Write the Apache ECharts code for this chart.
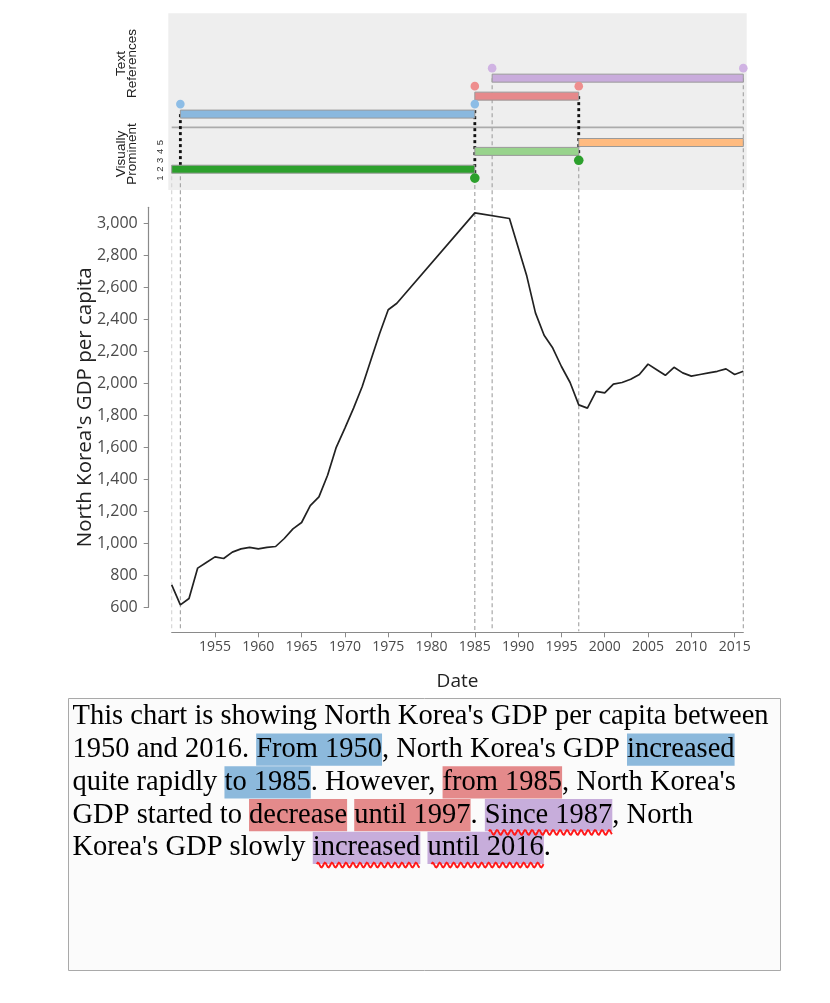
<!DOCTYPE html>
<html><head><meta charset="utf-8">
<script src="https://cdn.jsdelivr.net/npm/echarts/dist/echarts.min.js"></script>
<style>html,body{margin:0;padding:0;background:#fff}#c{width:830px;height:1003px}</style>
</head><body><div id="c"></div>
<script>
// ---------- data ----------
const years = [1950,1951,1952,1953,1954,1955,1956,1957,1958,1959,1960,1961,1962,1963,1964,1965,1966,1967,1968,1969,1970,1971,1972,1973,1974,1975,1976,1985,1989,1990,1991,1992,1993,1994,1995,1996,1997,1998,1999,2000,2001,2002,2003,2004,2005,2006,2007,2008,2009,2010,2011,2012,2013,2014,2015,2016];
const gdp = [740,615,655,845,880,915,905,945,965,975,965,975,980,1030,1090,1130,1235,1290,1425,1600,1720,1845,1980,2145,2310,2460,2500,3065,3030,2850,2670,2440,2300,2220,2105,2005,1865,1845,1950,1940,1995,2005,2025,2055,2120,2085,2050,2100,2065,2045,2055,2065,2075,2090,2055,2075];

// text references (top rows)
const trStart = [1951, 1985, 1987];
const trEnd   = [1985, 1997, 2016];
const trRow   = [1, 2, 3];
const trColor = ['#8ab8de', '#e6898b', '#c9acdc'];
const trDotColor = ['#8dbde6', '#ee8e8e', '#d0b3e3'];

// visually prominent (levels 1..5)
const vpStart = [1950, 1985, 1997];
const vpEnd   = [1985, 1997, 2016];
const vpLevel = [2, 4, 5];
const vpColor = ['#2ca02c', '#98d38c', '#ffbb80'];
const vpDotYear  = [1985, 1997];
const vpDotLevel = [1, 3];
const vpLevelLabels = ['1','2','3','4','5'];

// vertical reference rules
const ruleYears = [1950, 1951, 1985, 1987, 1997, 2016];

// text panel
const textLines = [
  [["This chart is showing North Korea's GDP per capita between"]],
  [["1950 and 2016. "],["From 1950","blue"],[", North Korea's GDP "],["increased","blue"]],
  [["quite rapidly "],["to 1985","blue"],[". However, "],["from 1985","red"],[", North Korea's"]],
  [["GDP started to "],["decrease","red"],[" "],["until 1997","red"],[". "],["Since 1987","purple",1],[", North"]],
  [["Korea's GDP slowly "],["increased","purple",1],[" "],["until 2016","purple",1],["."]]
];
const HL = {blue:'#8cb9dc', red:'#e48a8b', purple:'#c7addb'};

// ---------- layout ----------
const GL = 171.7, GR = 830 - 743.3;
const TOP_T = 17.9, TOP_H = 169.1;        // top panel grid: L 0..19
const MAIN_T = 207.3, MAIN_B = 1003 - 607.3;
const XOFF = 25, X_AXIS_Y = 607.3 + XOFF;
const TR_BASE = 6.17, TR_STEP = 2.02;
const trL = r => TR_BASE + TR_STEP * r;
const SEP_L = 6.7;
const BAR_H = 8;

const trData = trStart.map((s, i) => [s, trEnd[i], trL(trRow[i])]);
const vpData = vpStart.map((s, i) => [s, vpEnd[i], vpLevel[i]]);
const trDots = [];
trStart.forEach((s, i) => { trDots.push([s, trL(trRow[i]), i]); trDots.push([trEnd[i], trL(trRow[i]), i]); });
const vpDots = vpDotYear.map((y, i) => [y, vpDotLevel[i]]);

// anchors for rules (top of each grey rule, in L units)
const ruleTop = {1950: vpLevel[0], 1951: vpLevel[0], 1985: vpDotLevel[0], 1987: trL(3), 1997: vpDotLevel[1], 2016: trL(3)};
const ruleData = ruleYears.map(y => [y, ruleTop[y]]);
// black connectors: [year, fromL, toL]
const connData = [
  [trStart[0], trL(1), vpLevel[0]],
  [trEnd[0], trL(1) + 1.12, vpDotLevel[0]],
  [trEnd[1], trL(2), vpDotLevel[1]]
];

function barRender(colors) {
  return function (params, api) {
    const i = params.dataIndex;
    const a = api.coord([api.value(0), api.value(2)]);
    const b = api.coord([api.value(1), api.value(2)]);
    return {type: 'rect', shape: {x: a[0], y: a[1] - BAR_H / 2, width: b[0] - a[0], height: BAR_H},
      style: {fill: colors[i], stroke: '#9a9a9a', lineWidth: 1}};
  };
}

// ---------- graphics ----------
const graphics = [];
graphics.push({type: 'rect', z: 0, shape: {x: 168.3, y: 13.3, width: 578.4, height: 176.7}, style: {fill: '#eeeeee'}});
graphics.push({type: 'text', z: 1, x: 126.7, y: 63.5, rotation: Math.PI / 2,
  style: {text: 'Text\nReferences', font: '13.5px "Liberation Sans"', fill: '#222', align: 'center', verticalAlign: 'middle', textAlign: 'center', textVerticalAlign: 'middle', lineHeight: 11}});
graphics.push({type: 'text', z: 1, x: 126.7, y: 154, rotation: Math.PI / 2,
  style: {text: 'Visually\nProminent', font: '13.5px "Liberation Sans"', fill: '#222', align: 'center', verticalAlign: 'middle', textAlign: 'center', textVerticalAlign: 'middle', lineHeight: 11}});

// text box
graphics.push({type: 'rect', z: 0, shape: {x: 68.5, y: 698.5, width: 712, height: 272}, style: {fill: '#fbfbfb', stroke: '#a9a9a9', lineWidth: 1}});
const FONT_T = '28.5px "Liberation Serif"';
const TEXT_X = 72.5, TEXT_TOP = 700.6, LINE_H = 32.7;
const mctx = document.createElement('canvas').getContext('2d');
mctx.font = FONT_T;
textLines.forEach((segs, li) => {
  const top = TEXT_TOP + li * LINE_H;
  let full = '';
  segs.forEach(seg => {
    const x0 = TEXT_X + mctx.measureText(full).width;
    full += seg[0];
    const x1 = TEXT_X + mctx.measureText(full).width;
    if (seg[1]) {
      graphics.push({type: 'rect', z: 1, shape: {x: x0, y: top + 0.3, width: x1 - x0, height: 32.2}, style: {fill: HL[seg[1]]}});
    }
    if (seg[2]) {
      const pts = [];
      const yc = top + LINE_H + 1;
      for (let x = x0 + 4; x <= x1; x += 1) pts.push([x, yc + 2.4 * Math.sin((x - x0) * 2 * Math.PI / 7)]);
      graphics.push({type: 'polyline', z: 3, shape: {points: pts}, style: {stroke: '#ff1a1a', lineWidth: 1.9, fill: null}});
    }
  });
  graphics.push({type: 'text', z: 2, x: TEXT_X, y: top + LINE_H / 2,
    style: {text: full, font: FONT_T, fill: '#000', align: 'left', verticalAlign: 'middle', textAlign: 'left', textVerticalAlign: 'middle'}});
});

// ---------- chart ----------
const chart = echarts.init(document.getElementById('c'), null, {renderer: 'canvas'});
const axisGrey = '#8a8a8a';
const option = {
  animation: false,
  backgroundColor: '#fff',
  graphic: {elements: graphics},
  grid: [
    {left: GL, right: GR, top: TOP_T, height: TOP_H},
    {left: GL, right: GR, top: MAIN_T, bottom: MAIN_B}
  ],
  xAxis: [
    {gridIndex: 0, type: 'value', min: 1950, max: 2016, show: false},
    {gridIndex: 1, type: 'value', min: 1950, max: 2016, interval: 5, offset: XOFF,
      axisLine: {show: true, lineStyle: {color: axisGrey, width: 1.2}},
      axisTick: {show: true, length: 5, lineStyle: {color: axisGrey}},
      splitLine: {show: false},
      axisLabel: {showMinLabel: false, showMaxLabel: false, margin: 8, fontSize: 14, color: '#4a4a4a', fontFamily: 'Open Sans', formatter: v => String(v)},
      name: 'Date', nameLocation: 'middle', nameGap: 40, nameMoveOverlap: false,
      nameTextStyle: {fontSize: 19, color: '#222', fontFamily: 'Open Sans'}}
  ],
  yAxis: [
    {gridIndex: 0, type: 'value', min: 0, max: 19, interval: 1,
      axisLine: {show: false}, axisTick: {show: false}, splitLine: {show: false},
      axisLabel: {show: true, rotate: 90, margin: 6, fontSize: 9.5, color: '#333', fontFamily: 'Liberation Sans',
        formatter: v => (v >= 1 && v <= 5 ? vpLevelLabels[v - 1] : '')}},
    {gridIndex: 1, type: 'value', min: 600, max: 3100, interval: 200, offset: 23,
      axisLine: {show: true, lineStyle: {color: axisGrey, width: 1.2}},
      axisTick: {show: true, length: 5, lineStyle: {color: axisGrey}},
      splitLine: {show: false},
      axisLabel: {showMaxLabel: false, margin: 11, fontSize: 16, color: '#4a4a4a', fontFamily: 'Open Sans',
        formatter: v => v.toLocaleString('en-US')},
      name: "North Korea's GDP per capita", nameLocation: 'middle', nameGap: 53, nameRotate: 90, nameMoveOverlap: false,
      nameTextStyle: {fontSize: 20.5, color: '#222', fontFamily: 'Open Sans'}}
  ],
  series: [
    {type: 'custom', xAxisIndex: 0, yAxisIndex: 0, z: 1, clip: false, silent: true,
      data: ruleData,
      renderItem: function (params, api) {
        const y = api.value(0);
        const p = api.coord([y, api.value(1)]);
        return {type: 'line', shape: {x1: p[0], y1: p[1], x2: p[0], y2: X_AXIS_Y - 1},
          style: {stroke: y === 1950 ? '#d4d4d4' : '#a0a0a0', lineWidth: 1.1, lineDash: [4, 3]}};
      }},
    {type: 'custom', xAxisIndex: 0, yAxisIndex: 0, z: 2, clip: false, silent: true,
      data: [[1950, 2016, SEP_L]], encode: {x: [0, 1], y: 2},
      renderItem: function (params, api) {
        const a = api.coord([api.value(0), api.value(2)]);
        const b = api.coord([api.value(1), api.value(2)]);
        return {type: 'line', shape: {x1: a[0], y1: a[1], x2: b[0], y2: b[1]}, style: {stroke: '#ababab', lineWidth: 1.6}};
      }},
    {type: 'custom', xAxisIndex: 0, yAxisIndex: 0, z: 2, clip: false, silent: true,
      data: connData, encode: {x: 0, y: [1, 2]},
      renderItem: function (params, api) {
        const a = api.coord([api.value(0), api.value(1)]);
        const b = api.coord([api.value(0), api.value(2)]);
        return {type: 'line', shape: {x1: a[0], y1: a[1], x2: b[0], y2: b[1]}, style: {stroke: '#111', lineWidth: 2.8, lineDash: [3, 3]}};
      }},
    {type: 'custom', xAxisIndex: 0, yAxisIndex: 0, z: 3, clip: false, silent: true,
      data: trData, encode: {x: [0, 1], y: 2}, renderItem: barRender(trColor)},
    {type: 'custom', xAxisIndex: 0, yAxisIndex: 0, z: 3, clip: false, silent: true,
      data: vpData, encode: {x: [0, 1], y: 2}, renderItem: barRender(vpColor)},
    {type: 'custom', xAxisIndex: 0, yAxisIndex: 0, z: 4, clip: false, silent: true,
      data: trDots, encode: {x: 0, y: 1},
      renderItem: function (params, api) {
        const p = api.coord([api.value(0), api.value(1)]);
        return {type: 'circle', shape: {cx: p[0], cy: p[1] - 10, r: 4.3}, style: {fill: trDotColor[api.value(2)]}};
      }},
    {type: 'custom', xAxisIndex: 0, yAxisIndex: 0, z: 4, clip: false, silent: true,
      data: vpDots, encode: {x: 0, y: 1},
      renderItem: function (params, api) {
        const p = api.coord([api.value(0), api.value(1)]);
        return {type: 'circle', shape: {cx: p[0], cy: p[1], r: 4.8}, style: {fill: vpColor[0]}};
      }},
    {type: 'line', xAxisIndex: 1, yAxisIndex: 1, z: 5, silent: true,
      data: years.map((y, i) => [y, gdp[i]]),
      showSymbol: false, lineStyle: {color: '#222', width: 1.7}, itemStyle: {color: '#222'}}
  ]
};
chart.setOption(option);
</script></body></html>
